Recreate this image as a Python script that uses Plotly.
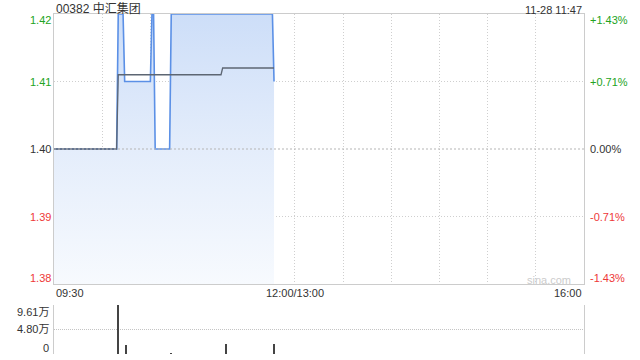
import plotly.graph_objects as go

# ---- data ----
title_text = "00382 中汇集团"
stamp_text = "11-28 11:47"
prev_close = 1.40

# price per minute from 09:30, as (price, number of minutes)
price_runs = [(1.40, 40), (1.42, 4), (1.41, 17), (1.42, 2), (1.40, 10), (1.42, 64), (1.41, 1)]
# average price line, as (price, number of minutes)
avg_runs = [(1.40, 40), (1.411, 65), (1.412, 33)]

vol_minutes = [40, 45, 73, 107, 137]
vol_values = [96100, 17000, 1200, 19000, 20000]

price_ticks = [1.38, 1.39, 1.40, 1.41, 1.42]
vol_ticks = [0, 48050, 96100]
vol_tick_text = ["0", "4.80万", "9.61万"]
x_labels = ["09:30", "12:00/13:00", "16:00"]
x_label_pos = [0, 150, 330]
grid_minutes = [30, 60, 90, 120, 150, 180, 210, 240, 270, 300]

price = []
for p, n in price_runs:
    price += [p] * n
avg = []
for p, n in avg_runs:
    avg += [p] * n
minutes = list(range(len(price)))

GREEN = "#22a322"
RED = "#ee3838"
GRAY = "#333333"
FONT = "Liberation Sans, Arial, Noto Sans CJK SC"

def col(p):
    if p > prev_close + 1e-9:
        return GREEN
    if p < prev_close - 1e-9:
        return RED
    return GRAY

def pct_text(p):
    pct = (p - prev_close) / prev_close * 100
    return f"{pct:+.2f}%" if abs(pct) > 1e-9 else "0.00%"

fig = go.Figure()

fig.add_trace(go.Scatter(
    x=minutes, y=price, mode="lines", xaxis="x", yaxis="y",
    line=dict(color="#5b90e6", width=1.6),
    fill="tozeroy",
    fillgradient=dict(type="vertical", start=1.38, stop=1.42,
                      colorscale=[[0, "rgba(247,250,254,1)"], [0.5, "rgba(228,237,251,1)"], [1, "rgba(205,222,248,1)"]]),
    hoverinfo="skip", showlegend=False))
fig.add_trace(go.Scatter(
    x=minutes, y=avg, mode="lines", xaxis="x", yaxis="y",
    line=dict(color="#5d6673", width=1.3), hoverinfo="skip", showlegend=False))
fig.add_trace(go.Bar(
    x=vol_minutes, y=vol_values, xaxis="x2", yaxis="y2", width=0.6,
    marker=dict(color="#444444", line=dict(width=0)), hoverinfo="skip", showlegend=False))

yr = [1.38, 1.42]
main_bottom = 0.2059
fig.update_layout(
    width=640, height=360,
    margin=dict(l=54, r=56, t=14, b=6),
    paper_bgcolor="white", plot_bgcolor="white",
    font=dict(family=FONT, size=11, color="#333"),
    xaxis=dict(domain=[0, 1], range=[0, 330], anchor="y",
               tickvals=grid_minutes, showticklabels=False, ticks="",
               showgrid=True, gridcolor="#cfcfcf", griddash="1px,2px", gridwidth=1,
               showline=True, linecolor="#cccccc", linewidth=1, mirror=True, zeroline=False),
    yaxis=dict(domain=[main_bottom, 1], range=yr, tickvals=[1.39, 1.41], showticklabels=False,
               showgrid=True, gridcolor="#cfcfcf", griddash="1px,2px", gridwidth=1,
               showline=True, linecolor="#cccccc", linewidth=1, mirror=True,
               zeroline=False, ticks=""),
    xaxis2=dict(domain=[0, 1], range=[0, 330], anchor="y2", showticklabels=False, ticks="",
                showgrid=False, showline=False, zeroline=False),
    yaxis2=dict(domain=[0, 0.1441], range=[0, 96100], tickvals=vol_ticks, showticklabels=False,
                showgrid=True, gridcolor="#c4c4c4", griddash="1px,1px", gridwidth=1,
                showline=True, linecolor="#cccccc", linewidth=1, mirror=True,
                zeroline=False, ticks="", anchor="x2"),
    bargap=0,
)

# previous close line
fig.add_shape(type="line", xref="x", yref="y", x0=0, x1=330, y0=prev_close, y1=prev_close,
              line=dict(color="#b5b5b5", width=1, dash="2px,2px"), layer="above")

ann = []
ann.append(dict(text=title_text, xref="paper", yref="paper", x=0, y=1, xanchor="left", yanchor="bottom",
                yshift=-4, showarrow=False, font=dict(size=12, color="#333", family=FONT)))
ann.append(dict(text=stamp_text, xref="paper", yref="paper", x=1, y=1, xanchor="right", yanchor="bottom",
                yshift=-4, showarrow=False, font=dict(size=11, color="#333", family=FONT)))

# price / percent labels
for p in price_ticks:
    ys = 0
    if abs(p - yr[1]) < 1e-9:
        ys = -6
    elif abs(p - yr[0]) < 1e-9:
        ys = 6
    ann.append(dict(text=f"{p:.2f}", xref="paper", yref="y", x=0, y=p, xanchor="right", yanchor="middle",
                    xshift=-1, yshift=ys, showarrow=False, font=dict(size=11, color=col(p), family=FONT)))
    ann.append(dict(text=pct_text(p), xref="paper", yref="y", x=1, y=p, xanchor="left", yanchor="middle",
                    xshift=4, yshift=ys, showarrow=False, font=dict(size=11, color=col(p), family=FONT)))

# volume labels
vol_shift = [6, 1, -7]
for v, t, s in zip(vol_ticks, vol_tick_text, vol_shift):
    ann.append(dict(text=t, xref="paper", yref="y2", x=0, y=v, xanchor="right", yanchor="middle",
                    xshift=-3, yshift=s, showarrow=False, font=dict(size=11, color="#333", family=FONT)))

anchors = ["left", "center", "right"]
for t, xp, a in zip(x_labels, x_label_pos, anchors):
    ann.append(dict(text=t, xref="x", yref="paper", x=xp, y=main_bottom, xanchor=a, yanchor="top",
                    yshift=-1, showarrow=False, font=dict(size=11, color="#333", family=FONT)))
ann.append(dict(text="sina.com", xref="x", yref="y", x=323, y=1.38, xanchor="right", yanchor="bottom",
                yshift=-4, showarrow=False, font=dict(size=11, color="#cccccc", family=FONT)))
fig.update_layout(annotations=ann)

fig.write_html("out.html")
